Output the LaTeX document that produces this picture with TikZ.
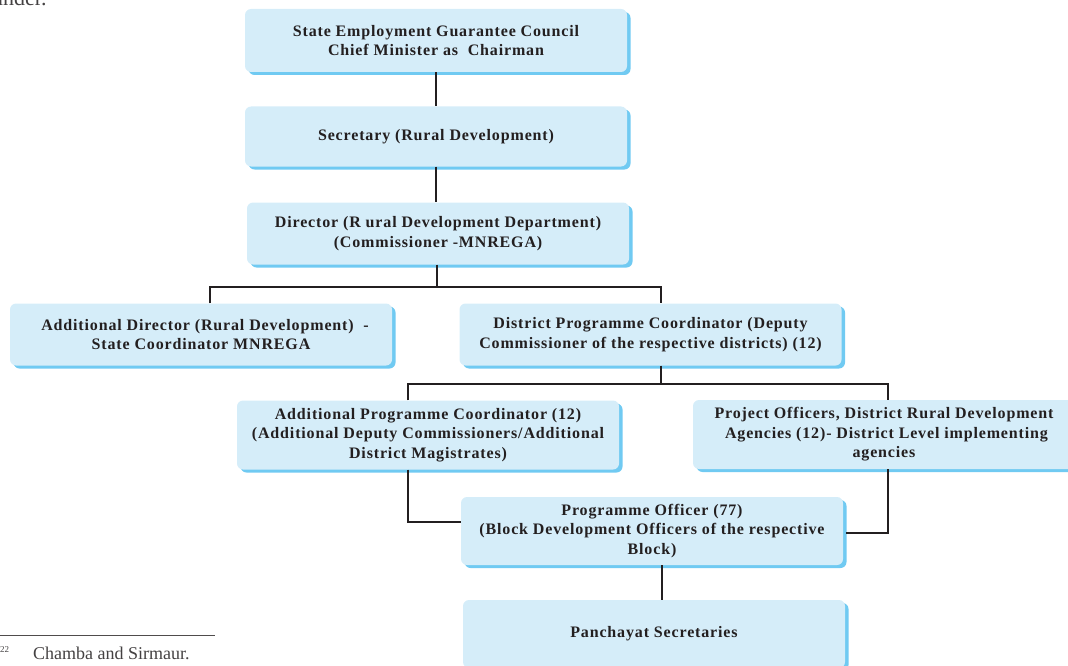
\documentclass[tikz,border=0pt]{standalone}
\usepackage{fontspec}
\setmainfont{Liberation Serif}
\newfontfamily\boxfont[LetterSpace=5.3]{Liberation Serif}
\usetikzlibrary{calc,shadows}
\definecolor{boxfill}{RGB}{213,237,249}
\definecolor{boxshadow}{RGB}{112,202,242}
\definecolor{linecol}{RGB}{35,31,32}
\begin{document}
\begin{tikzpicture}[x=1pt,y=-1pt,
  orgbox/.style={rectangle, rounded corners=6pt, fill=boxfill, minimum width=382pt,
    inner sep=0pt, align=center, text=linecol,
    font=\boxfont\bfseries\fontsize{16}{19.5}\selectfont,
    general shadow={fill=boxshadow, shadow xshift=3.5pt, shadow yshift=-3pt}},
  conn/.style={draw=linecol, line width=1.6pt},
  pagetext/.style={inner sep=0pt, text=linecol!85}]
\useasboundingbox (0,0) rectangle (1068,666);

% page remnants
\node[pagetext, anchor=base west, font=\fontsize{22}{22}\selectfont] (under) at (-8,6) {under.};
\coordinate (r1) at (0,635);
\coordinate (r2) at (215,635);
\draw[linecol!80, line width=0.8pt] (r1) -- (r2);
\node[pagetext, anchor=base west, font=\fontsize{9}{9}\selectfont] (fnum) at (0,652) {22};
\node[pagetext, anchor=base west, font=\fontsize{18}{18}\selectfont] (fnote) at (33,659) {Chamba and Sirmaur.};

% boxes
\node[orgbox, minimum height=63pt] (b1) at (436,40.5) {State Employment Guarantee Council\\Chief Minister as\ \ Chairman};
\node[orgbox, minimum height=60pt] (b2) at (436,136.5) {Secretary (Rural Development)};
\node[orgbox, minimum height=62pt] (b3) at (438,233.5) {Director (R ural Development Department)\\(Commissioner -MNREGA)};
\node[orgbox, minimum height=62pt] (b4) at (201,334.5) {\hspace*{8pt}Additional Director (Rural Development)\ \ -\\State Coordinator MNREGA};
\node[orgbox, minimum height=62pt] (b5) at (650.5,334.5) {District Programme Coordinator (Deputy\\Commissioner of the respective districts) (12)};
\node[orgbox, minimum height=69pt] (b6) at (428,435) {Additional Programme Coordinator (12)\\(Additional Deputy Commissioners/Additional\\District Magistrates)};
\node[orgbox, minimum height=69pt] (b7) at (884,434.5) {Project Officers, District Rural Development\\\ Agencies (12)- District Level implementing\\agencies};
\node[orgbox, minimum height=68pt] (b8) at (652,531) {Programme Officer (77)\\(Block Development Officers of the respective\\Block)};
\node[orgbox, minimum height=68pt] (b9) at (654,634) {Panchayat Secretaries};

% connectors
\draw[conn] (b1.south) -- (b1.south |- b2.north);
\draw[conn] (b2.south) -- (b2.south |- b3.north);
\coordinate (j1) at (437,287);
\draw[conn] (b3.south -| j1) -- (j1);
\draw[conn] ([xshift=9pt]b4.north) |- (j1) -| ([xshift=10.5pt]b5.north);
\coordinate (j2) at (661,384);
\draw[conn] (b5.south -| j2) -- (j2);
\draw[conn] ([xshift=-20pt]b6.north) |- (j2) -| ([xshift=4pt]b7.north);
\draw[conn] ([xshift=-20pt]b6.south) |- ([yshift=9pt]b8.west);
\draw[conn] ([xshift=4pt]b7.south) |- ([yshift=-2pt,xshift=3pt]b8.east);
\draw[conn] ([xshift=10pt]b8.south) -- ([xshift=10pt]b8.south |- b9.north);
\end{tikzpicture}
\end{document}
